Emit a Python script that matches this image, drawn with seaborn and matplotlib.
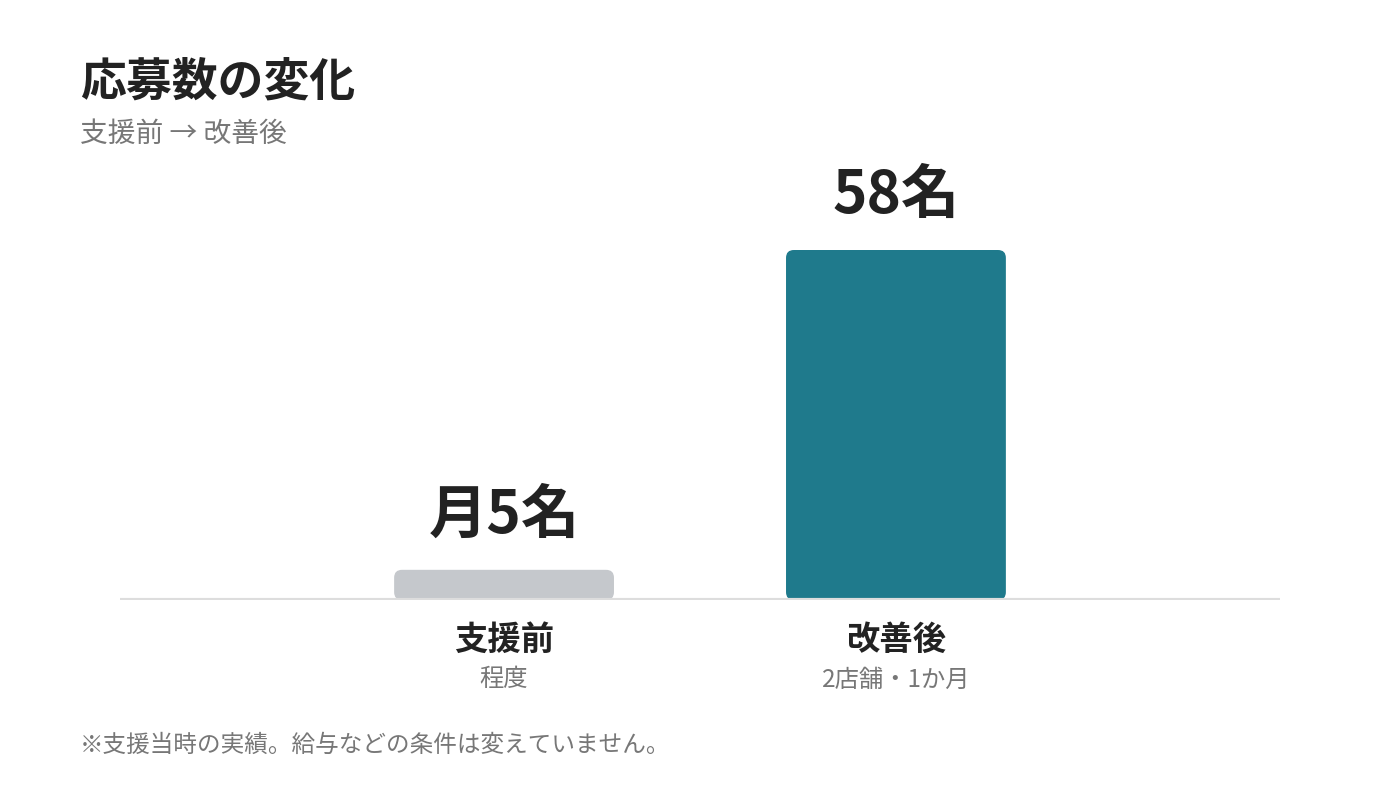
import matplotlib
matplotlib.use("Agg")
import matplotlib.pyplot as plt
import seaborn as sns
import pandas as pd
from matplotlib.patches import FancyBboxPatch

categories = ["支援前", "改善後"]
values = [5, 58]
value_labels = ["月5名", "58名"]
sub_labels = ["程度", "2店舗・1か月"]
colors = ["#c5c8cc", "#1f7a8c"]

sns.set_theme(style="white")
plt.rcParams['font.family'] = ['Noto Sans CJK JP', 'DejaVu Sans']

fig = plt.figure(figsize=(14, 7.88), dpi=100)
ax = fig.add_axes([120 / 1400, 188 / 788, 1160 / 1400, 350 / 788])

df = pd.DataFrame({"cat": categories, "val": values})
sns.barplot(data=df, x="cat", y="val", hue="cat", palette=colors, width=0.561,
            saturation=1, legend=False, ax=ax)

# swap plain bars for rounded ones
for p in list(ax.patches):
    x, y = p.get_x(), p.get_y()
    w, h = p.get_width(), p.get_height()
    fc = p.get_facecolor()
    p.remove()
    ax.add_patch(FancyBboxPatch((x, y), w, h, boxstyle="round,pad=0,rounding_size=0.02",
                                mutation_aspect=65, facecolor=fc, edgecolor="none",
                                clip_on=False, zorder=2))

ax.set_xlim(-0.98, 1.98)
ax.set_ylim(0, 58)
ax.axhline(0, color="#dddddd", linewidth=3, zorder=3)
for s in ax.spines.values():
    s.set_visible(False)
ax.set_xticks([])
ax.set_yticks([])
ax.set_xlabel("")
ax.set_ylabel("")

for i, (v, lab, cat, sub) in enumerate(zip(values, value_labels, categories, sub_labels)):
    ax.text(i, v + 4.0, lab, ha="center", va="bottom", fontsize=42, fontweight="bold",
            color="#222222", clip_on=False)
    ax.text(i, -4.0, cat, ha="center", va="top", fontsize=24, fontweight="bold",
            color="#222222", clip_on=False)
    ax.text(i, -11.0, sub, ha="center", va="top", fontsize=17.5, color="#777777",
            clip_on=False)

fig.text(80 / 1400, 1 - 82 / 788, "応募数の変化", fontsize=33, fontweight="bold",
         color="#222222", va="center")
fig.text(80 / 1400, 1 - 134 / 788, "支援前 → 改善後", fontsize=20, color="#777777",
         va="center")
fig.text(80 / 1400, 1 - 745 / 788, "※支援当時の実績。給与などの条件は変えていません。",
         fontsize=17, color="#777777", va="center")

fig.savefig("out.png", dpi=100, facecolor="white")
